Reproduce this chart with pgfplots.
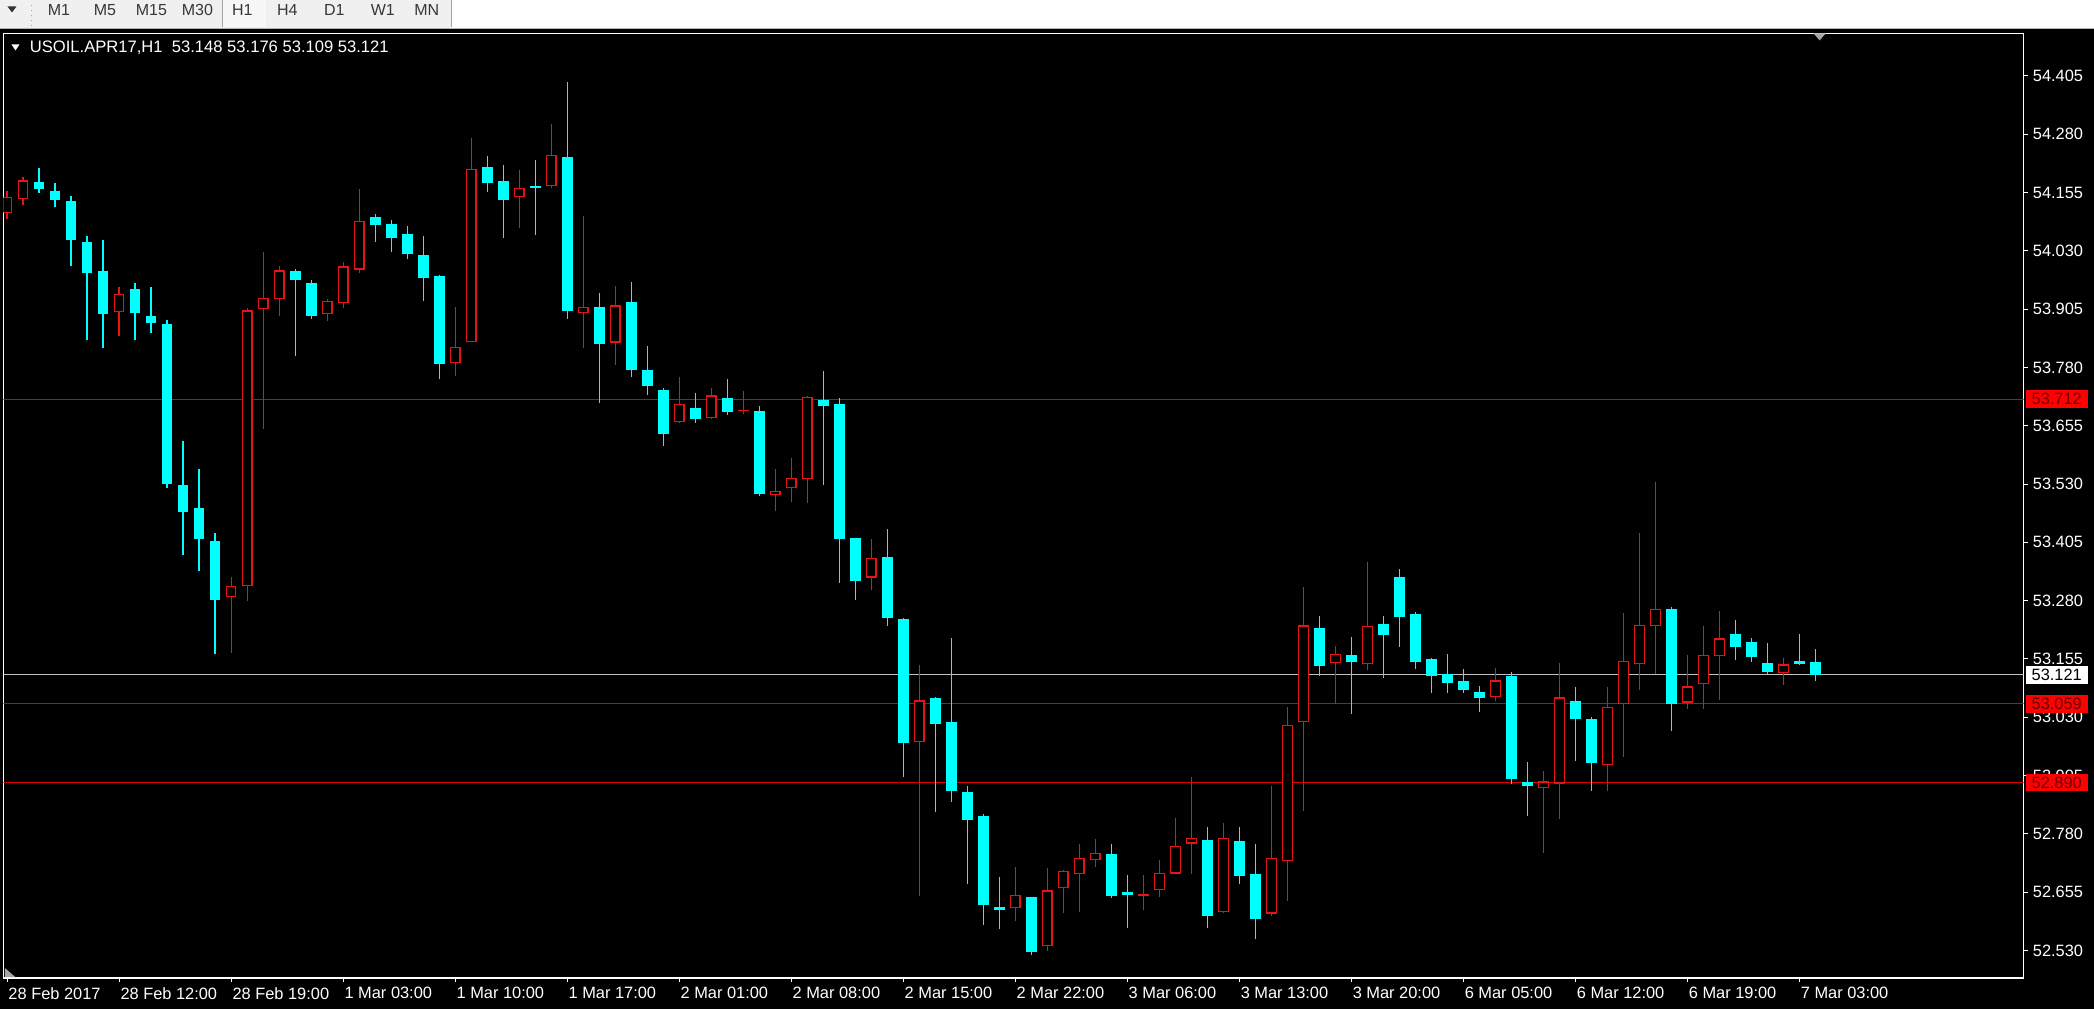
\documentclass[border=0pt]{standalone}
\usepackage{pgfplots}
\pgfplotsset{compat=1.18}
\usepackage{pgfplotstable}
\usepackage{fontspec}
\setmainfont{Liberation Sans}
\definecolor{candlecyan}{RGB}{0,255,255}
\definecolor{candlered}{RGB}{230,20,20}
\definecolor{linered}{RGB}{220,0,0}
\definecolor{bidgray}{RGB}{192,192,192}
\definecolor{tbgray}{RGB}{240,240,240}
\definecolor{tbtext}{RGB}{55,55,55}
\definecolor{lblred}{RGB}{255,0,0}
\definecolor{lbltext}{RGB}{105,0,0}

\pgfplotstableread{
i O H L C
0 54.110 54.160 54.100 54.145
1 54.142 54.189 54.128 54.182
7 53.900 53.954 53.849 53.939
14 53.287 53.331 53.169 53.311
15 53.313 53.908 53.280 53.904
16 53.906 54.028 53.650 53.929
17 53.926 53.999 53.892 53.988
20 53.894 53.928 53.881 53.923
21 53.918 54.007 53.909 53.997
22 53.991 54.163 53.984 54.096
28 53.791 53.911 53.763 53.826
29 53.836 54.272 53.834 54.206
32 54.145 54.205 54.080 54.165
34 54.169 54.303 54.166 54.237
36 53.898 54.107 53.824 53.911
38 53.833 53.955 53.786 53.913
42 53.663 53.760 53.660 53.702
44 53.673 53.737 53.671 53.721
46 53.687 53.730 53.681 53.690
48 53.508 53.563 53.472 53.517
49 53.522 53.585 53.492 53.543
50 53.541 53.719 53.490 53.717
54 53.330 53.413 53.304 53.373
57 52.977 53.143 52.648 53.067
63 52.622 52.710 52.594 52.649
65 52.539 52.708 52.531 52.659
66 52.664 52.703 52.611 52.701
67 52.694 52.759 52.614 52.730
68 52.724 52.770 52.709 52.739
71 52.650 52.692 52.617 52.653
72 52.659 52.724 52.644 52.697
73 52.695 52.814 52.694 52.754
74 52.759 52.902 52.696 52.771
76 52.612 52.804 52.611 52.772
79 52.609 52.884 52.605 52.729
80 52.722 53.053 52.636 53.014
81 53.020 53.309 52.830 53.228
83 53.147 53.184 53.059 53.167
85 53.145 53.365 53.132 53.226
93 53.074 53.137 53.065 53.110
96 52.878 52.916 52.741 52.893
97 52.889 53.147 52.812 53.074
100 52.930 53.095 52.872 53.054
101 53.060 53.254 52.946 53.153
102 53.145 53.425 53.089 53.228
103 53.226 53.534 53.123 53.262
105 53.062 53.164 53.048 53.097
106 53.102 53.227 53.050 53.165
107 53.162 53.260 53.069 53.200
111 53.126 53.157 53.100 53.145
}\bull

\pgfplotstableread{
i O H L C
2 54.179 54.207 54.153 54.162
3 54.158 54.175 54.123 54.140
4 54.139 54.148 53.998 54.054
5 54.049 54.062 53.839 53.984
6 53.987 54.053 53.821 53.894
8 53.947 53.963 53.839 53.896
9 53.891 53.953 53.855 53.877
10 53.875 53.882 53.522 53.531
11 53.528 53.623 53.380 53.471
12 53.479 53.563 53.344 53.413
13 53.409 53.426 53.166 53.282
18 53.988 53.991 53.804 53.969
19 53.960 53.968 53.884 53.890
23 54.103 54.110 54.050 54.087
24 54.089 54.096 54.028 54.059
25 54.066 54.085 54.014 54.023
26 54.022 54.062 53.924 53.973
27 53.977 53.979 53.755 53.787
30 54.211 54.233 54.157 54.177
31 54.180 54.214 54.057 54.140
33 54.169 54.225 54.065 54.166
35 54.231 54.392 53.885 53.902
37 53.909 53.942 53.705 53.831
39 53.921 53.964 53.761 53.776
40 53.774 53.826 53.721 53.740
41 53.733 53.737 53.612 53.638
43 53.695 53.726 53.660 53.671
45 53.717 53.756 53.680 53.686
47 53.687 53.698 53.505 53.510
51 53.710 53.774 53.530 53.697
52 53.702 53.714 53.319 53.414
53 53.414 53.415 53.281 53.323
55 53.374 53.434 53.227 53.244
56 53.241 53.243 52.902 52.975
58 53.072 53.074 52.826 53.015
59 53.020 53.201 52.850 52.873
60 52.871 52.883 52.672 52.811
61 52.819 52.824 52.586 52.628
62 52.624 52.689 52.577 52.616
64 52.645 52.647 52.522 52.528
69 52.737 52.757 52.642 52.648
70 52.656 52.694 52.579 52.648
75 52.767 52.795 52.579 52.605
77 52.765 52.795 52.672 52.691
78 52.694 52.759 52.556 52.599
82 53.222 53.248 53.120 53.140
84 53.164 53.203 53.037 53.150
86 53.230 53.248 53.115 53.208
87 53.332 53.348 53.182 53.247
88 53.252 53.255 53.133 53.150
89 53.154 53.157 53.082 53.118
90 53.123 53.166 53.082 53.105
91 53.109 53.134 53.082 53.088
92 53.085 53.098 53.041 53.072
94 53.117 53.127 52.887 52.898
95 52.892 52.934 52.819 52.882
98 53.066 53.095 52.936 53.028
99 53.027 53.030 52.873 52.932
104 53.263 53.266 53.000 53.060
108 53.210 53.239 53.153 53.182
109 53.192 53.200 53.150 53.161
110 53.147 53.190 53.122 53.127
112 53.151 53.209 53.144 53.145
113 53.148 53.176 53.109 53.121
}\bear

\begin{document}
\begin{tikzpicture}[x=1pt,y=1pt]
% background
\fill[black] (0,0) rectangle (1047,504.5);
\fill[white] (0,490) rectangle (1047,504.5);
\fill[tbgray] (0,490) rectangle (225.5,504.5);
\draw[gray!60, line width=0.5pt] (0,490.25) -- (1047,490.25);
% toolbar
\fill[black!80] (3.5,501.5) -- (8,501.5) -- (5.75,498.5) -- cycle;
\draw[gray!70, line width=0.5pt, dotted] (15.5,491.5) -- (15.5,503.5);
\fill[white!97!black] (111.5,491) rectangle (133,504.5);
\draw[gray!70, line width=0.5pt] (111.25,491) -- (111.25,504.5);
\draw[gray!70, line width=0.5pt] (225.5,491) -- (225.5,504.5);
\begin{scope}[every node/.style={font=\fontsize{8}{9}\selectfont, text=tbtext, inner sep=0pt}]
\node at (29.25,499.6) {M1};
\node at (52.25,499.6) {M5};
\node at (75.5,499.6) {M15};
\node at (98.5,499.6) {M30};
\node at (121,499.6) {H1};
\node at (143.5,499.6) {H4};
\node at (167,499.6) {D1};
\node at (191.25,499.6) {W1};
\node at (213.25,499.6) {MN};
\end{scope}

\begin{axis}[
  at={(1.5pt,15.5pt)}, anchor=south west,
  scale only axis, width=1010.5pt, height=472.5pt,
  xmin=-0.225, xmax=126, ymin=52.471, ymax=54.496,
  axis background/.style={fill=black},
  axis line style={draw=white, line width=0.6pt},
  tick align=outside, major tick length=2pt,
  tick style={white, line width=0.5pt},
  xtick pos=bottom, ytick pos=right, yticklabel pos=right,
  xtick={0,7,...,112},
  xticklabels={28 Feb 2017, 28 Feb 12:00, 28 Feb 19:00, 1 Mar 03:00, 1 Mar 10:00, 1 Mar 17:00, 2 Mar 01:00, 2 Mar 08:00, 2 Mar 15:00, 2 Mar 22:00, 3 Mar 06:00, 3 Mar 13:00, 3 Mar 20:00, 6 Mar 05:00, 6 Mar 12:00, 6 Mar 19:00, 7 Mar 03:00},
  ytick={52.530,52.655,52.780,52.905,53.030,53.155,53.280,53.405,53.530,53.655,53.780,53.905,54.030,54.155,54.280,54.405},
  yticklabels={52.530,52.655,52.780,52.905,53.030,53.155,53.280,53.405,53.530,53.655,53.780,53.905,54.030,54.155,54.280,54.405},
  ticklabel style={font=\fontsize{8.2}{9}\selectfont, text=white},
  xticklabel style={anchor=north west, inner sep=0pt, xshift=0.5pt, yshift=-2.5pt},
  yticklabel style={anchor=west, inner sep=0pt, xshift=2.5pt},
  /pgf/number format/assume math mode=true,
  every error bar/.append style={line cap=butt, line join=bevel},
  candle/.style={draw=none, mark=none, forget plot},
]
% horizontal lines
\addplot[linered, line width=0.6pt] coordinates {(-1,53.712) (130,53.712)};
\addplot[linered, line width=0.6pt] coordinates {(-1,53.059) (130,53.059)};
\addplot[linered, line width=0.6pt] coordinates {(-1,52.890) (130,52.890)};
\addplot[bidgray, line width=0.6pt] coordinates {(-1,53.121) (130,53.121)};
% wicks
\addplot[candle, error bars/.cd, y dir=both, y explicit, error mark=none,
  error bar style={draw=candlered, line width=0.65pt}]
  table[x=i, y expr={(\thisrow{H}+\thisrow{L})/2}, y error expr={(\thisrow{H}-\thisrow{L})/2}] {\bull};
\addplot[candle, error bars/.cd, y dir=both, y explicit, error mark=none,
  error bar style={draw=candlecyan, line width=0.65pt}]
  table[x=i, y expr={(\thisrow{H}+\thisrow{L})/2}, y error expr={(\thisrow{H}-\thisrow{L})/2}] {\bear};
% bear bodies (filled cyan)
\addplot[candle, error bars/.cd, y dir=both, y explicit, error mark=none,
  error bar style={draw=candlecyan, line width=5.35pt}]
  table[x=i, y expr={(\thisrow{O}+\thisrow{C})/2}, y error expr={max((\thisrow{O}-\thisrow{C})/2,0.00125)}] {\bear};
% bull bodies (hollow red)
\addplot[candle, error bars/.cd, y dir=both, y explicit, error mark=none,
  error bar style={draw=candlered, line width=5.35pt}]
  table[x=i, y expr={(\thisrow{O}+\thisrow{C})/2}, y error expr={max((\thisrow{C}-\thisrow{O})/2,0.00125)}] {\bull};
\addplot[candle, error bars/.cd, y dir=both, y explicit, error mark=none,
  error bar style={draw=black, line width=4.15pt}]
  table[x=i, y expr={(\thisrow{C}-\thisrow{O}>0.0064) ? (\thisrow{O}+\thisrow{C})/2 : 50},
        y error expr={max((\thisrow{C}-\thisrow{O})/2-0.0027,0.0005)}] {\bull};
\coordinate (R1) at (axis cs:126,53.712);
\coordinate (R2) at (axis cs:126,53.059);
\coordinate (R3) at (axis cs:126,52.890);
\coordinate (R4) at (axis cs:126,53.121);
\end{axis}
% right-hand price boxes
\begin{scope}[every node/.style={font=\fontsize{8.2}{9}\selectfont, inner sep=0pt, minimum width=31pt, minimum height=8.8pt, anchor=west}]
\node[fill=lblred, text=lbltext] at ([xshift=0.9pt]R1) {53.712};
\node[fill=lblred, text=lbltext] at ([xshift=0.9pt]R2) {53.059};
\node[fill=lblred, text=lbltext] at ([xshift=0.9pt]R3) {52.890};
\node[fill=white, text=black] at ([xshift=0.9pt]R4) {53.121};
\end{scope}
% title
\fill[white] (5.5,482.5) -- (9.5,482.5) -- (7.5,479.5) -- cycle;
\node[anchor=west, inner sep=0pt, text=white, font=\fontsize{8.3}{9}\selectfont] at (14.5,481) {USOIL.APR17,H1\ \ 53.148 53.176 53.109 53.121};
% markers
\fill[gray!70] (907,488) -- (913,488) -- (910,484.5) -- cycle;
\fill[gray!70] (2.2,20.5) -- (2.2,16) -- (7.4,16) -- cycle;
\end{tikzpicture}
\end{document}
